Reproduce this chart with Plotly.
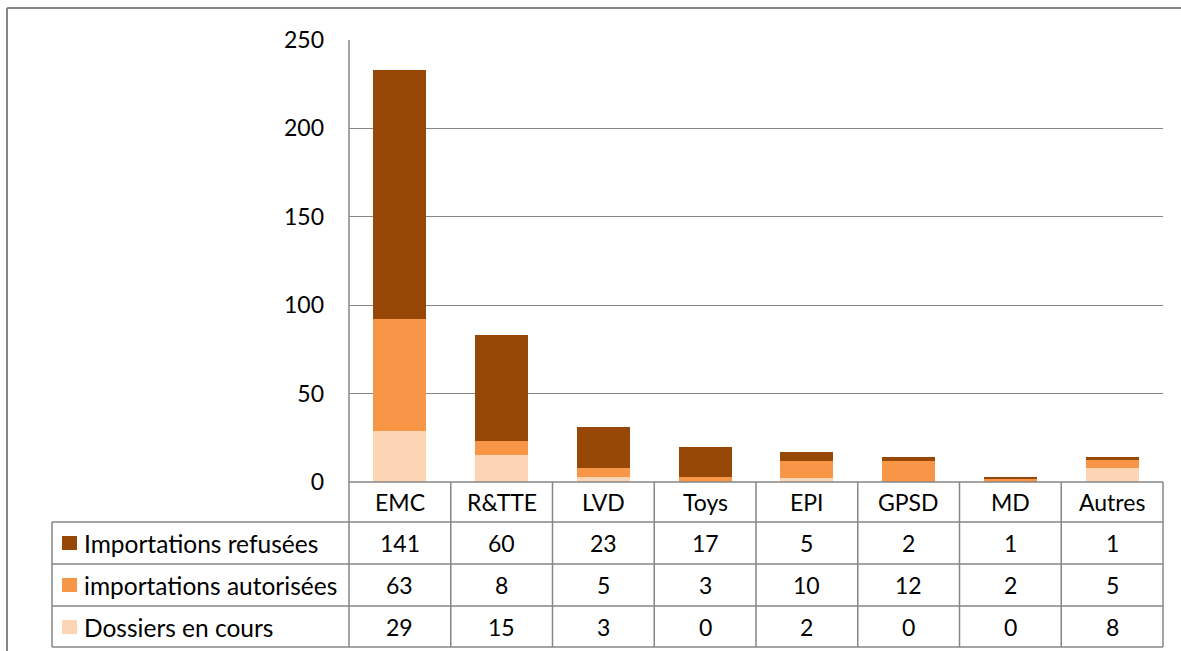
import plotly.graph_objects as go

categories = ["EMC", "R&TTE", "LVD", "Toys", "EPI", "GPSD", "MD", "Autres"]
series_names = ["Importations refusées", "importations autorisées", "Dossiers en cours"]
refusees = [141, 60, 23, 17, 5, 2, 1, 1]
autorisees = [63, 8, 5, 3, 10, 12, 2, 5]
en_cours = [29, 15, 3, 0, 2, 0, 0, 8]
y_ticks = [0, 50, 100, 150, 200, 250]

colors = {"Importations refusées": "#974806",
          "importations autorisées": "#F79646",
          "Dossiers en cours": "#FCD5B4"}
values = {"Importations refusées": refusees,
          "importations autorisées": autorisees,
          "Dossiers en cours": en_cours}

W, H = 1181, 651
L, R, T, B = 349, 1163, 40, 482
pw, ph = R - L, B - T
FONT = "Lato"
FS = 23
FS_LEG = 24.5
GRID = "#868686"

def px(xp):
    return (xp - L) / pw

def py(yp):
    return (B - yp) / ph

fig = go.Figure()
for name in ["Dossiers en cours", "importations autorisées", "Importations refusées"]:
    fig.add_trace(go.Bar(x=categories, y=values[name], name=name,
                         marker=dict(color=colors[name], line=dict(width=0)),
                         showlegend=False))

shapes = []
annotations = []
row_lines = [482, 522, 564, 606, 647]
shapes.append(dict(type="line", xref="paper", yref="paper", x0=0, x1=1,
                   y0=py(482), y1=py(482), line=dict(color=GRID, width=1.5)))
for yl in row_lines[1:]:
    shapes.append(dict(type="line", xref="paper", yref="paper", x0=px(52), x1=1,
                       y0=py(yl), y1=py(yl), line=dict(color=GRID, width=1.5)))
shapes.append(dict(type="line", xref="paper", yref="paper", x0=px(52), x1=px(52),
                   y0=py(522), y1=py(647), line=dict(color=GRID, width=1.5)))
n = len(categories)
for k in range(n + 1):
    xx = k / n
    shapes.append(dict(type="line", xref="paper", yref="paper", x0=xx, x1=xx,
                       y0=py(482) if k > 0 else 1, y1=py(647),
                       line=dict(color=GRID, width=1.5)))
# outer chart frame (top and left edges visible)
shapes.append(dict(type="line", xref="paper", yref="paper", x0=px(7), x1=px(1181),
                   y0=py(8), y1=py(8), line=dict(color=GRID, width=2)))
shapes.append(dict(type="line", xref="paper", yref="paper", x0=px(7), x1=px(7),
                   y0=py(8), y1=py(651), line=dict(color=GRID, width=2)))

for c in categories:
    annotations.append(dict(x=c, xref="x", y=py(502), yref="paper", text=c,
                            yanchor="middle", showarrow=False,
                            font=dict(family=FONT, size=FS, color="black")))
rows_y = [543, 585, 627]
for name, yc in zip(series_names, rows_y):
    for c, v in zip(categories, values[name]):
        annotations.append(dict(x=c, xref="x", y=py(yc), yref="paper", text=str(v),
                                yanchor="middle", showarrow=False,
                                font=dict(family=FONT, size=FS, color="black")))
    shapes.append(dict(type="rect", xref="paper", yref="paper", x0=px(62), x1=px(77),
                       y0=py(yc + 7), y1=py(yc - 7), fillcolor=colors[name],
                       line=dict(width=0)))
    annotations.append(dict(x=px(82), xref="paper", y=py(yc), yref="paper", text=name,
                            xanchor="left", yanchor="middle", showarrow=False,
                            font=dict(family=FONT, size=FS_LEG, color="black")))

fig.update_layout(
    width=W, height=H,
    margin=dict(l=L, r=W - R, t=T, b=H - B, pad=0),
    paper_bgcolor="white", plot_bgcolor="white",
    barmode="stack", bargap=0.48,
    shapes=shapes, annotations=annotations,
    font=dict(family=FONT, size=FS, color="black"),
    xaxis=dict(showticklabels=False, showgrid=False, zeroline=False, showline=False,
               ticks=""),
    yaxis=dict(range=[0, 250], tickvals=y_ticks, showgrid=True, gridcolor=GRID,
               gridwidth=1.3, zeroline=False, showline=False, ticks="",
               ticklabelstandoff=24, tickfont=dict(family=FONT, size=FS, color="black")),
)

fig.write_html("out.html", config={"displayModeBar": False},
               post_script="document.body.style.margin='0';document.body.style.overflow='hidden';")
